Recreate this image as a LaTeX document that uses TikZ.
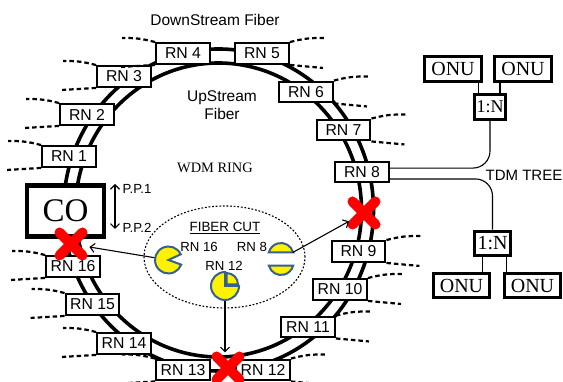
\documentclass[tikz,border=0pt]{standalone}
\usepackage{fontspec}
\setmainfont{Liberation Sans}
\newfontfamily\boxserif{Liberation Serif}
\usetikzlibrary{shapes.misc, arrows.meta}
\definecolor{pieblue}{HTML}{35608F}
\tikzset{
    >={Straight Barb[length=4.5pt, width=9pt]},
    fiber/.style={line width=3.6pt},
    rnbox/.style={draw, line width=2.4pt, fill=white, minimum width=53.5pt, minimum height=20.5pt, inner sep=0pt, font=\fontsize{15.8}{18}\selectfont},
    stub/.style={line width=2.2pt, dash pattern=on 4.5pt off 3pt},
    onubox/.style={draw, line width=3.4pt, fill=white, minimum width=56.5pt, minimum height=24.5pt, inner sep=0pt, font=\boxserif\fontsize{20}{22}\selectfont},
    splitbox/.style={draw, line width=3.4pt, fill=white, minimum width=30.5pt, minimum height=24.5pt, inner sep=0pt, font=\boxserif\fontsize{18}{20}\selectfont},
    redx/.style={cross out, draw=red, line width=10pt, line cap=round, minimum size=23pt, inner sep=0pt, outer sep=0pt},
    piece/.style={draw=pieblue, fill=yellow, line width=2pt},
    pieslot/.style={circle, minimum size=#1, inner sep=0pt},
    small/.style={font=\fontsize{13.2}{15}\selectfont},
    big/.style={font=\fontsize{15}{18}\selectfont},
}
\begin{document}
\begin{tikzpicture}[x=1pt, y=1pt]
    \useasboundingbox (0,0) rectangle (563,382);

    % Ring, upstream and downstream
    \coordinate (ringC) at (218.5,172);
    \draw[fiber] (ringC) ellipse (155 and 161);
    \draw[fiber] (ringC) ellipse (143 and 147);

    % Central office
    \node[draw, line width=4.4pt, fill=white, minimum width=77pt, minimum height=51pt, inner sep=0pt, font=\boxserif\fontsize{33}{36}\selectfont] (CO) at (65.5,171) {CO};

    % Remote nodes
    \foreach \n/\px/\py in {1/69/225.5, 2/87/267.5, 3/124/305.5, 4/183/328.5, 5/262/328.5, 6/306/290, 7/343.5/252, 8/362/210, 9/358.5/130.5, 10/340/92.5, 11/308/55, 12/263/12, 13/183/12, 14/124/38.5, 15/92.5/77.5, 16/73/115.5}
        \node[rnbox] (RN\n) at (\px,\py) {RN \n};

    % Drop lines on the left
    \foreach \n in {1,2,3,4,13,14,15,16} {
        \coordinate[xshift=-33pt, yshift=4pt] (stubU\n) at (RN\n.north west);
        \coordinate[xshift=-34pt, yshift=-2pt] (stubL\n) at (RN\n.south west);
        \draw[stub] (RN\n.north west) to[bend right=8] (stubU\n);
        \draw[stub] (RN\n.south west) -- (stubL\n);
    }
    % Drop lines on the right
    \foreach \n in {5,6,7,9,10,11,12} {
        \coordinate[xshift=34pt, yshift=4pt] (stubU\n) at (RN\n.north east);
        \coordinate[xshift=33pt, yshift=-3pt] (stubL\n) at (RN\n.south east);
        \draw[stub] (RN\n.north east) to[bend left=8] (stubU\n);
        \draw[stub] (RN\n.south east) -- (stubL\n);
    }

    % Labels on the ring
    \node[big, font=\fontsize{15.5}{18}\selectfont] (dsLabel) at (215,362) {DownStream Fiber};
    \node[big, font=\fontsize{15.5}{18}\selectfont, align=center] (usLabel) at (222,277) {UpStream\\Fiber};
    \node[font=\boxserif\fontsize{14.4}{16}\selectfont] (ringLabel) at (215,214) {WDM RING};

    % Protection points
    \node[small, anchor=west] (ppA) at (119,193) {P.P.1};
    \node[small, anchor=west] (ppB) at (119,154) {P.P.2};
    \coordinate (ppTop) at (115,198);
    \coordinate (ppBot) at (115,153);
    \draw[<->, line width=1.1pt] (ppTop) -- (ppBot);

    % TDM trees
    \node[onubox] (onuA) at (453,313) {ONU};
    \node[onubox] (onuB) at (523,313) {ONU};
    \node[splitbox] (splitA) at (490,275) {1:N};
    \node[onubox] (onuC) at (461.5,96.5) {ONU};
    \node[onubox] (onuD) at (532.5,96.5) {ONU};
    \node[splitbox, minimum width=35.5pt, font=\boxserif\fontsize{20}{22}\selectfont] (splitB) at (492.5,138.5) {1:N};
    \draw[line width=1.4pt] (splitA.130) -- (splitA.130 |- onuA.south);
    \draw[line width=1.4pt] (splitA.54) -- (splitA.54 |- onuB.south);
    \draw[line width=1.4pt] (splitB.234) -- (splitB.234 |- onuC.north);
    \draw[line width=1.4pt] (splitB.315) -- (splitB.315 |- onuD.north);
    \draw[line width=1.1pt, rounded corners=17pt] (RN8.8) -| (splitA.south);
    \draw[line width=1.1pt, rounded corners=17pt] (RN8.-14) -| (splitB.north);
    \node[big] (treeLabel) at (524,207) {TDM TREE};

    % Fiber cut legend
    \draw[line width=1.1pt, dash pattern=on 1.8pt off 1.8pt] (224.5,125) ellipse (80.5 and 51);
    \node[font=\fontsize{13.4}{15}\selectfont] (cutLabel) at (225,154) {\underline{FIBER CUT}};
    \node[small] (lblA) at (199,135) {RN 16};
    \node[small] (lblB) at (252,135) {RN 8};
    \node[small] (lblC) at (224,116) {RN 12};

    % Pie pictures
    \node[pieslot=28pt] (pieA) at (168.5,122) {};
    \node[pieslot=26pt] (pieB) at (281,123) {};
    \node[pieslot=30pt] (pieC) at (225,96) {};
    \draw[piece] (pieA.center) -- ++(25:13.5) arc (25:340:13.5) -- cycle;
    \draw[piece] ([yshift=3.5pt]pieB.center) ++(15:12.5) arc (15:165:12.5) -- cycle;
    \draw[piece] ([yshift=-3.5pt]pieB.center) ++(195:12.5) arc (195:345:12.5) -- cycle;
    \draw[piece] (pieC.center) -- ++(90:14) arc (90:360:14) -- cycle;
    \draw[piece] ([shift={(1.5,1.5)}]pieC.center) -- ++(0:11.5) arc (0:90:11.5) -- cycle;

    % Cuts
    \node[redx] (cutA) at (71,138) {};
    \node[redx] (cutB) at (364,169) {};
    \node[redx] (cutC) at (228,14) {};
    \draw[->, line width=1.1pt, shorten >=7pt] (pieA) -- (cutA);
    \draw[->, line width=1.1pt, shorten >=4pt] (pieB) -- (cutB);
    \draw[->, line width=1.1pt, shorten >=4pt] (pieC.south) -- (pieC.south |- cutC.north);
\end{tikzpicture}
\end{document}
